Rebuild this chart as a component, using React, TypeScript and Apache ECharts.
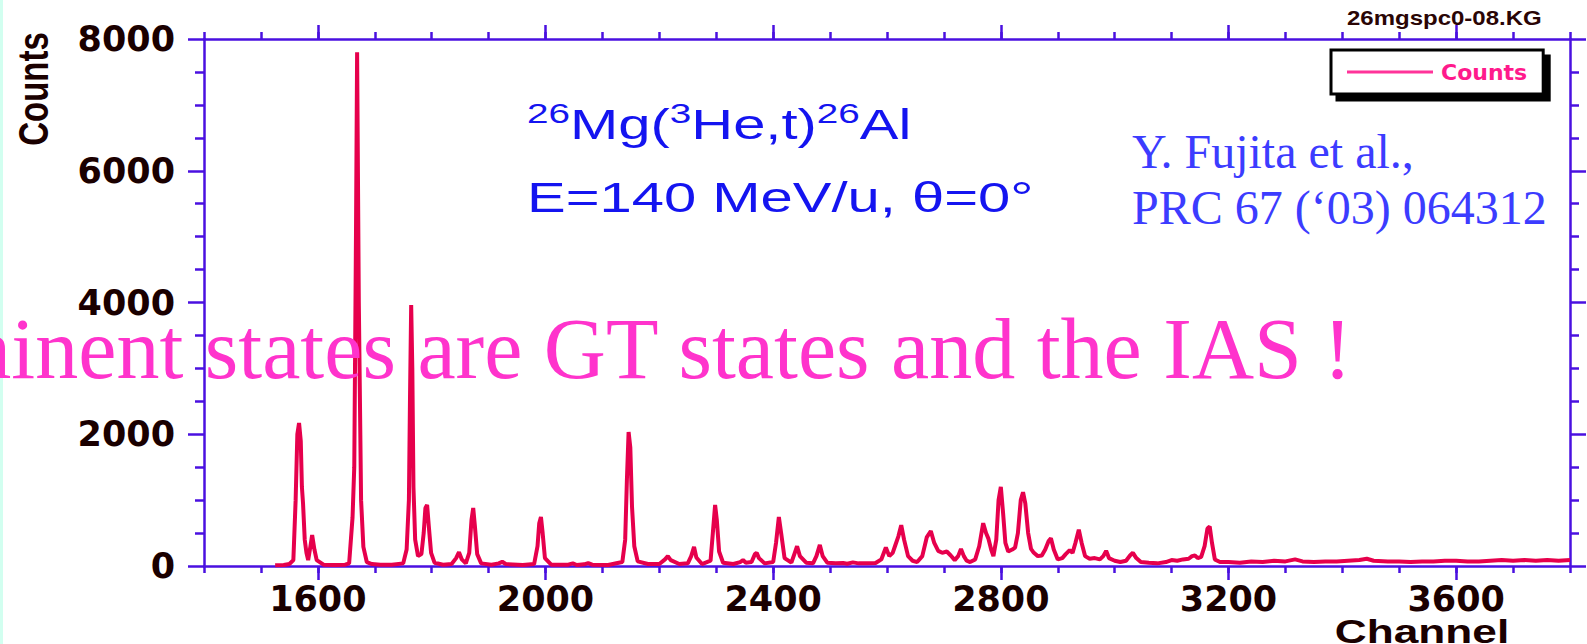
import React, { useEffect, useRef } from "react";
import * as echarts from "echarts";

// ---- data (channel, counts) ----
const ground1567: [number, number][] = [
  [1525, 10], [1540, 15], [1550, 30], [1557, 90], [1561, 1000], [1564, 2000],
  [1567, 2170], [1570, 1900], [1572, 1200], [1574, 950], [1577, 400], [1580, 200],
  [1583, 90], [1587, 300], [1590, 470], [1594, 250], [1598, 90], [1610, 20],
  [1630, 15], [1648, 20], [1655, 40], [1661, 740], [1664, 1500], [1667, 5000],
  [1669, 7800], [1672, 4000], [1676, 1000], [1680, 290], [1686, 60], [1695, 30],
];
const lowPeaks: [number, number][] = [
  [1710, 20], [1730, 20], [1750, 40], [1756, 250], [1760, 1000], [1762, 2600],
  [1764, 3960], [1766, 3000], [1768, 1200], [1771, 400], [1776, 150], [1782, 180],
  [1786, 500], [1789, 880], [1792, 926], [1795, 600], [1799, 200], [1805, 50],
  [1820, 20], [1835, 30], [1843, 120], [1848, 210], [1853, 100], [1860, 40],
  [1866, 200], [1870, 700], [1873, 880], [1876, 600], [1880, 180], [1887, 40],
  [1905, 20], [1918, 40], [1924, 65], [1930, 30], [1960, 15], [1980, 30],
  [1986, 300], [1989, 650], [1992, 744], [1995, 500], [1999, 120], [2010, 20],
  [2040, 20], [2048, 40], [2055, 15], [2068, 25], [2075, 45], [2082, 20],
  [2110, 15], [2135, 60], [2140, 400], [2143, 1300], [2146, 2034], [2149, 1800],
  [2152, 900], [2156, 300], [2162, 70], [2180, 30],
];
const midPeaks: [number, number][] = [
  [2200, 30], [2210, 100], [2215, 150], [2220, 90], [2235, 30], [2250, 40],
  [2256, 150], [2261, 290], [2265, 130], [2275, 30], [2290, 80], [2294, 500],
  [2298, 926], [2301, 700], [2305, 220], [2312, 50], [2330, 30], [2342, 60],
  [2347, 90], [2352, 50], [2362, 60], [2368, 180], [2371, 200], [2375, 120],
  [2385, 40], [2400, 60], [2405, 350], [2410, 744], [2414, 500], [2420, 120],
  [2432, 50], [2438, 200], [2442, 300], [2447, 150], [2458, 50], [2470, 40],
  [2476, 150], [2482, 320], [2487, 150], [2495, 50], [2510, 40], [2523, 45],
  [2530, 35], [2540, 55], [2550, 40], [2565, 40], [2580, 45], [2590, 100],
];
const highPeaks: [number, number][] = [
  [2598, 280], [2604, 150], [2610, 200], [2614, 300], [2620, 450], [2625, 620],
  [2630, 400], [2637, 150], [2645, 80], [2653, 60], [2662, 150], [2670, 440],
  [2677, 530], [2683, 350], [2690, 230], [2697, 200], [2705, 220], [2712, 160],
  [2719, 90], [2725, 150], [2730, 260], [2735, 150], [2740, 80], [2746, 60],
  [2755, 100], [2762, 300], [2769, 650], [2774, 500], [2778, 420], [2783, 250],
  [2787, 150], [2792, 400], [2796, 1000], [2800, 1200], [2804, 800], [2808, 350],
  [2813, 220], [2820, 250], [2825, 280], [2830, 500], [2835, 1000], [2839, 1120],
  [2843, 950], [2848, 500], [2853, 260], [2858, 200], [2865, 150], [2872, 160],
  [2878, 250], [2884, 380], [2888, 420], [2893, 250], [2900, 100], [2908, 120],
  [2914, 180], [2921, 240], [2926, 200], [2931, 350], [2937, 550], [2942, 350],
  [2948, 150], [2956, 110], [2965, 120], [2974, 100], [2980, 150], [2985, 230],
  [2990, 120],
];
const tailRegion: [number, number][] = [
  [3000, 80], [3010, 60], [3020, 80], [3027, 160], [3032, 200], [3038, 120],
  [3046, 60], [3060, 50], [3075, 40], [3090, 60], [3100, 90], [3110, 80],
  [3120, 100], [3130, 110], [3136, 150], [3141, 160], [3146, 120], [3152, 140],
  [3158, 300], [3163, 570], [3167, 600], [3171, 350], [3176, 100], [3185, 60],
  [3200, 60], [3220, 50], [3240, 70], [3260, 60], [3280, 80], [3300, 70],
  [3317, 100], [3330, 70], [3350, 60], [3370, 70], [3390, 70], [3410, 80],
  [3430, 90], [3443, 110], [3455, 80], [3480, 70], [3500, 70], [3520, 60],
  [3540, 70], [3560, 70], [3580, 80], [3600, 80], [3620, 70], [3640, 70],
  [3660, 80], [3680, 90], [3700, 80], [3720, 90], [3740, 80], [3760, 90],
  [3780, 80], [3800, 90],
];

const xMajorTicks = [1600, 2000, 2400, 2800, 3200, 3600];
const xRange = [1400, 3800];
const yRange = [0, 8000];
const yStep = 2000;
const seriesName = "Counts";
const xName = "Channel";
const yName = "Counts";
const fileTag = "26mgspc0-08.KG";
const energyLine = "E=140 MeV/u, θ=0°";
const citationLines = ["Y. Fujita et al.,", "PRC 67 (‘03) 064312"];
const bannerText = "Prominent states are GT states and the IAS !";

const AXIS_COLOR = "#4a10e0";
const LABEL_COLOR = "#1a0000";
const TITLE_BLUE = "#1414f0";

export default function App() {
  const ref = useRef<HTMLDivElement>(null);
  useEffect(() => {
    document.body.style.margin = "0";
    if (!ref.current) return;
    const chart = echarts.init(ref.current, null, { renderer: "svg" });
    const data = [...ground1567, ...lowPeaks, ...midPeaks, ...highPeaks, ...tailRegion];
    const axisLine = { show: true, lineStyle: { color: AXIS_COLOR, width: 2.5 } };
    const tickStyle = { color: AXIS_COLOR, width: 2.5 };
    const plain = (v: number) => String(v);
    const labelFont = {
      fontFamily: "DejaVu Sans",
      fontWeight: "bold" as const,
      fontSize: 35,
      color: LABEL_COLOR,
      formatter: plain,
    };
    const baseX = {
      type: "value" as const,
      min: xRange[0],
      max: xRange[1],
      splitLine: { show: false },
    };
    const baseY = {
      type: "value" as const,
      min: yRange[0],
      max: yRange[1],
      interval: yStep,
      splitLine: { show: false },
    };
    chart.setOption({
      animation: false,
      backgroundColor: "#ffffff",
      grid: { left: 204, right: 17, top: 39, bottom: 78, containLabel: false },
      legend: {
        left: 1331,
        top: 50,
        padding: [11, 16, 11, 16],
        itemWidth: 86,
        itemHeight: 3,
        itemGap: 0,
        icon: "rect",
        backgroundColor: "#ffffff",
        borderColor: "#000000",
        borderWidth: 3,
        borderRadius: 0,
        shadowColor: "#000000",
        shadowOffsetX: 6,
        shadowOffsetY: 6,
        shadowBlur: 0,
        itemStyle: { color: "#ff3399", borderWidth: 0 },
        textStyle: {
          fontFamily: "DejaVu Sans",
          fontWeight: "bold",
          fontSize: 22,
          color: "#ff1a8c",
          padding: [0, 0, 0, 3],
        },
        data: [seriesName],
      },
      xAxis: [
        {
          ...baseX,
          position: "bottom",
          axisLine,
          axisTick: { show: true, customValues: xMajorTicks, length: 14, lineStyle: tickStyle },
          axisLabel: { ...labelFont, customValues: xMajorTicks, margin: 15 },
        },
        {
          ...baseX,
          position: "bottom",
          interval: 100,
          axisLine: { show: false },
          axisTick: { show: true, length: 7, lineStyle: tickStyle },
          axisLabel: { show: false },
        },
        {
          ...baseX,
          position: "top",
          axisLine,
          axisTick: { show: true, customValues: xMajorTicks, length: 14, lineStyle: tickStyle },
          axisLabel: { show: false },
        },
        {
          ...baseX,
          position: "top",
          interval: 100,
          axisLine: { show: false },
          axisTick: { show: true, length: 7, lineStyle: tickStyle },
          axisLabel: { show: false },
        },
      ],
      yAxis: [
        {
          ...baseY,
          position: "left",
          axisLine,
          axisTick: { show: true, length: 16, lineStyle: tickStyle },
          minorTick: { show: true, splitNumber: 4, length: 9, lineStyle: tickStyle },
          axisLabel: { ...labelFont, margin: 29 },
        },
        {
          ...baseY,
          position: "right",
          axisLine,
          axisTick: { show: true, length: 16, lineStyle: tickStyle },
          minorTick: { show: true, splitNumber: 4, length: 9, lineStyle: tickStyle },
          axisLabel: { show: false },
        },
      ],
      series: [
        {
          name: seriesName,
          type: "line",
          xAxisIndex: 0,
          yAxisIndex: 0,
          data,
          symbol: "none",
          showSymbol: false,
          lineStyle: { color: "#e6004c", width: 4 },
          itemStyle: { color: "#e6004c" },
          z: 3,
        },
      ],
      graphic: [
        {
          type: "rect",
          shape: { x: 0, y: 0, width: 3, height: 644 },
          style: { fill: "#d2fff0" },
          silent: true,
        },
        {
          type: "text",
          x: 1347,
          y: 18,
          scaleX: 1.2,
          style: {
            text: fileTag,
            fontFamily: "Liberation Sans",
            fontWeight: "bold",
            fontSize: 20,
            fill: "#2a0505",
            align: "left",
            verticalAlign: "middle",
            textAlign: "left",
            textVerticalAlign: "middle",
          },
        },
        {
          type: "text",
          x: 527,
          y: 99,
          scaleX: 1.38,
          style: {
            text: "{s|26}{n|Mg(}{s|3}{n|He,t)}{s|26}{n|Al}",
            fontFamily: "Liberation Sans",
            fill: TITLE_BLUE,
            align: "left",
            verticalAlign: "top",
            textAlign: "left",
            textVerticalAlign: "top",
            rich: {
              n: {
                fontFamily: "Liberation Sans",
                fontSize: 42,
                lineHeight: 50,
                verticalAlign: "middle",
                fill: TITLE_BLUE,
                color: TITLE_BLUE,
              },
              s: {
                fontFamily: "Liberation Sans",
                fontSize: 28,
                lineHeight: 14,
                verticalAlign: "top",
                fill: TITLE_BLUE,
                color: TITLE_BLUE,
              },
            },
          },
        },
        {
          type: "text",
          x: 527,
          y: 197,
          scaleX: 1.38,
          style: {
            text: energyLine,
            fontFamily: "Liberation Sans",
            fontSize: 42,
            fill: TITLE_BLUE,
            align: "left",
            verticalAlign: "middle",
            textAlign: "left",
            textVerticalAlign: "middle",
          },
        },
        {
          type: "text",
          x: 1132,
          y: 151,
          style: {
            text: citationLines[0],
            fontFamily: "Liberation Serif",
            fontSize: 48,
            fill: "#3c3cff",
            align: "left",
            verticalAlign: "middle",
            textAlign: "left",
            textVerticalAlign: "middle",
          },
        },
        {
          type: "text",
          x: 1132,
          y: 207,
          style: {
            text: citationLines[1],
            fontFamily: "Liberation Serif",
            fontSize: 48,
            fill: "#3c3cff",
            align: "left",
            verticalAlign: "middle",
            textAlign: "left",
            textVerticalAlign: "middle",
          },
        },
        {
          type: "text",
          x: 33,
          y: 89,
          rotation: Math.PI / 2,
          scaleY: 1.3,
          style: {
            text: yName,
            fontFamily: "Liberation Sans",
            fontWeight: "bold",
            fontSize: 33,
            fill: LABEL_COLOR,
            align: "center",
            verticalAlign: "middle",
            textAlign: "center",
            textVerticalAlign: "middle",
          },
        },
        {
          type: "text",
          x: 1422,
          y: 631,
          scaleX: 1.3,
          style: {
            text: xName,
            fontFamily: "Liberation Sans",
            fontWeight: "bold",
            fontSize: 34,
            fill: LABEL_COLOR,
            align: "center",
            verticalAlign: "middle",
            textAlign: "center",
            textVerticalAlign: "middle",
          },
        },
        {
          type: "text",
          x: -175,
          y: 349,
          z: 100,
          style: {
            text: bannerText,
            fontFamily: "Liberation Serif",
            fontSize: 86,
            fill: "#ff33cc",
            align: "left",
            verticalAlign: "middle",
            textAlign: "left",
            textVerticalAlign: "middle",
          },
        },
      ],
    });
    return () => chart.dispose();
  }, []);
  return (
    <div
      ref={ref}
      style={{ position: "fixed", left: 0, top: 0, width: 1587, height: 644 }}
    />
  );
}
